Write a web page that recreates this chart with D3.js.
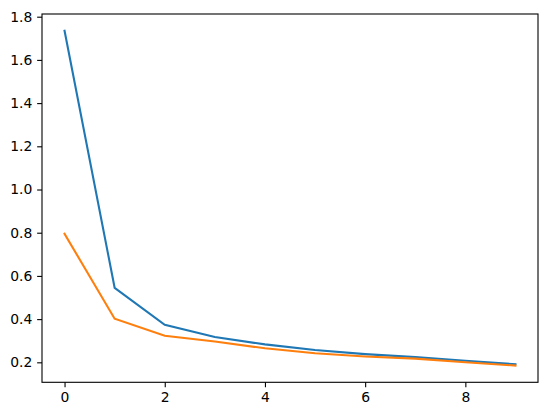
<!DOCTYPE html>
<html><head><meta charset="utf-8">
<script src="https://cdn.jsdelivr.net/npm/d3@7"></script>
<style>html,body{margin:0;padding:0;background:#fff;}svg{display:block;}</style>
</head><body>
<svg id="c" width="547" height="416"></svg>
<script>
const epochs = [0,1,2,3,4,5,6,7,8,9];
const seriesA = [1.735,0.545,0.374,0.317,0.283,0.257,0.238,0.224,0.207,0.191];
const seriesB = [0.795,0.402,0.323,0.296,0.265,0.242,0.227,0.217,0.200,0.185];
const xTicks = [0,2,4,6,8];
const yTicks = [0.2,0.4,0.6,0.8,1.0,1.2,1.4,1.6,1.8];

const svg = d3.select("#c");
const L = 42, R = 538, T = 14, B = 382.3;
const all = seriesA.concat(seriesB);
const ymin = d3.min(all), ymax = d3.max(all);
const ypad = (ymax - ymin) * 0.05;
const xpad = (d3.max(epochs) - d3.min(epochs)) * 0.05;
const x = d3.scaleLinear().domain([d3.min(epochs) - xpad, d3.max(epochs) + xpad]).range([L, R]);
const y = d3.scaleLinear().domain([ymin - ypad, ymax + ypad]).range([B, T]);

const font = "DejaVu Sans, sans-serif";
const line = d3.line().x((d,i)=>x(epochs[i])).y(d=>y(d));
const g = svg.append("g");
g.append("path").datum(seriesA).attr("d", line).attr("fill","none").attr("stroke","#1f77b4").attr("stroke-width",2.08).attr("stroke-linecap","square");
g.append("path").datum(seriesB).attr("d", line).attr("fill","none").attr("stroke","#ff7f0e").attr("stroke-width",2.08).attr("stroke-linecap","square");

const xAxis = svg.append("g").attr("transform",`translate(0,${B})`)
  .call(d3.axisBottom(x).tickValues(xTicks).tickFormat(d3.format("d")).tickSize(4.86).tickPadding(4.86));
const yAxis = svg.append("g").attr("transform",`translate(${L},0)`)
  .call(d3.axisLeft(y).tickValues(yTicks).tickFormat(d3.format(".1f")).tickSize(4.86).tickPadding(4.86));
[xAxis,yAxis].forEach(a=>{
  a.select(".domain").remove();
  a.selectAll("line").attr("stroke","#000").attr("stroke-width",1.1);
  a.selectAll("text").attr("font-family",font).attr("font-size","13.9px").attr("fill","#000");
});
svg.append("rect").attr("x",L).attr("y",T).attr("width",R-L).attr("height",B-T)
  .attr("fill","none").attr("stroke","#000").attr("stroke-width",1.1);
</script>
</body></html>
